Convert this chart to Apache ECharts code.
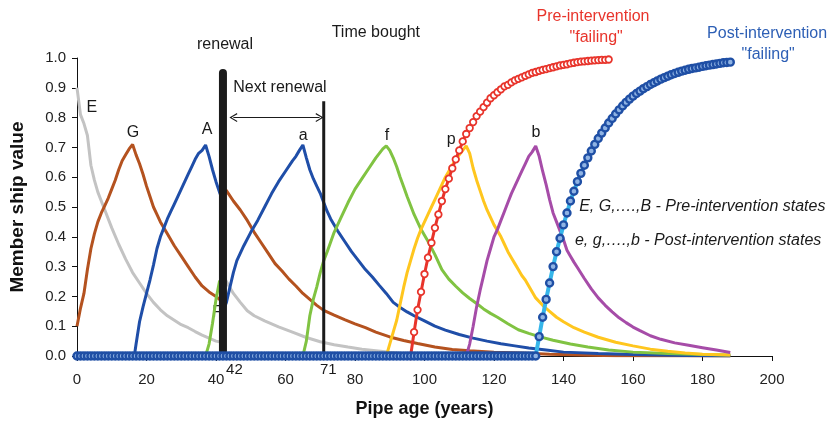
<!DOCTYPE html>
<html>
<head>
<meta charset="utf-8">
<script src="https://cdn.jsdelivr.net/npm/echarts@6/dist/echarts.min.js"></script>
<style>
  html, body { margin: 0; padding: 0; background: #fff; }
  #chart { width: 838px; height: 425px; }
</style>
</head>
<body>
<div id="chart"></div>
<script>
// Membership value of each condition state against pipe age, [age, value]

// Pre-intervention states
const statePreE = [[0,0.90],[1,0.81],[2,0.78],[3,0.74],[4,0.64],[5,0.59],[6,0.55],[8,0.49],[10,0.43],[12,0.375],[14,0.325],[16,0.28],[18,0.245],[20,0.21],[22,0.18],[24,0.155],[26,0.135],[28,0.12],[30,0.105],[32,0.095],[34,0.082],[36,0.07],[38,0.06],[40,0.05],[42,0.045]];
const statePreG = [[0,0.10],[1,0.16],[2,0.21],[3,0.29],[4,0.36],[5,0.41],[6,0.45],[7,0.48],[8,0.505],[9,0.53],[10,0.56],[11,0.59],[12,0.625],[13,0.655],[14,0.675],[15,0.695],[16,0.71],[17,0.675],[18,0.645],[19,0.61],[20,0.57],[21,0.535],[22,0.50],[23,0.475],[24,0.45],[26,0.41],[28,0.37],[30,0.335],[32,0.30],[34,0.265],[36,0.235],[38,0.215],[40,0.20],[41,0.19],[42,0.18]];
const statePreA = [[0,0],[16.5,0],[17,0.04],[18,0.115],[19,0.165],[20,0.21],[21,0.255],[22,0.305],[23,0.36],[24,0.40],[25,0.43],[26,0.46],[27,0.485],[28,0.51],[29,0.535],[30,0.56],[31,0.585],[32,0.61],[33,0.635],[34,0.66],[35,0.68],[36,0.69],[37,0.708],[38,0.67],[39,0.625],[40,0.585],[41,0.55],[42,0.52]];
const statePreF = [[0,0],[37,0],[38,0.04],[39,0.11],[40,0.19],[41,0.25],[42,0.26]];

// Post-intervention states (after the renewal at age 42)
const statePostE = [[42,0.27],[43,0.25],[45,0.21],[47,0.18],[49,0.152],[51,0.135],[54,0.118],[58,0.098],[62,0.08],[66,0.062],[70,0.048],[74,0.038],[78,0.03],[82,0.023],[86,0.018],[90,0.013],[95,0.007],[100,0.003],[110,0]];
const statePostG = [[42,0.565],[43,0.555],[45,0.52],[47,0.49],[49,0.455],[51,0.415],[53,0.38],[55,0.345],[57,0.31],[59,0.285],[61,0.258],[63,0.235],[65,0.21],[67,0.19],[69,0.17],[71,0.153],[74,0.137],[77,0.122],[80,0.108],[83,0.095],[86,0.08],[90,0.064],[94,0.052],[98,0.042],[103,0.03],[108,0.022],[113,0.018],[120,0.013],[128,0.01],[136,0.006],[145,0.003],[155,0.001],[188,0]];
const statePostA = [[42,0.15],[43,0.18],[44,0.23],[45,0.28],[46,0.32],[47,0.345],[48,0.37],[50,0.415],[52,0.455],[54,0.50],[56,0.545],[58,0.585],[60,0.62],[62,0.655],[63,0.67],[64,0.69],[65,0.708],[66,0.665],[67,0.625],[68,0.595],[69,0.57],[70,0.546],[71,0.515],[72,0.485],[73,0.46],[75,0.42],[77,0.385],[79,0.35],[81,0.32],[83,0.29],[85,0.265],[87,0.237],[89,0.21],[91,0.18],[93,0.163],[95,0.148],[97,0.135],[100,0.118],[103,0.1],[106,0.087],[110,0.072],[114,0.06],[118,0.05],[122,0.041],[126,0.034],[130,0.027],[135,0.02],[140,0.013],[150,0.008],[160,0.005],[175,0.002],[188,0]];
const statePostF = [[42,0],[65,0],[66,0.05],[67,0.135],[68,0.19],[69,0.232],[70,0.28],[71,0.32],[72,0.35],[74,0.415],[76,0.465],[78,0.515],[80,0.56],[82,0.595],[84,0.63],[86,0.665],[88,0.695],[89,0.705],[90,0.69],[91,0.665],[92,0.635],[93,0.60],[94,0.568],[95,0.535],[96,0.505],[97,0.475],[99,0.425],[101,0.385],[103,0.34],[105,0.29],[107,0.258],[109,0.234],[111,0.212],[113,0.193],[115,0.176],[117,0.158],[119,0.143],[121,0.13],[124,0.108],[127,0.088],[130,0.076],[133,0.065],[137,0.053],[142,0.04],[147,0.03],[153,0.02],[160,0.013],[170,0.008],[180,0.005],[188,0.003]];
const statePostP = [[0,0],[89,0],[90,0.04],[91,0.08],[92,0.12],[93,0.175],[94,0.23],[95,0.28],[96,0.32],[97,0.36],[98,0.395],[99,0.425],[100,0.45],[101,0.475],[102,0.50],[103,0.525],[104,0.55],[105,0.575],[106,0.60],[107,0.62],[108,0.64],[109,0.66],[110,0.675],[111,0.69],[112,0.705],[113,0.68],[114,0.63],[115,0.59],[116,0.555],[117,0.52],[118,0.49],[119,0.465],[120,0.44],[121,0.42],[122,0.40],[123,0.375],[124,0.35],[125,0.33],[126,0.31],[127,0.29],[128,0.27],[129,0.255],[130,0.235],[131,0.215],[132,0.195],[134,0.17],[136,0.15],[138,0.13],[140,0.115],[143,0.095],[146,0.08],[150,0.063],[155,0.046],[160,0.034],[165,0.023],[170,0.016],[175,0.01],[180,0.006],[188,0.003]];
const statePostB = [[0,0],[112,0],[113,0.04],[114,0.10],[115,0.165],[116,0.22],[117,0.27],[118,0.32],[119,0.36],[120,0.40],[121,0.425],[122,0.455],[123,0.485],[124,0.515],[125,0.545],[126,0.57],[127,0.595],[128,0.62],[129,0.645],[130,0.67],[131,0.685],[132,0.705],[133,0.67],[134,0.62],[135,0.575],[136,0.525],[137,0.48],[138,0.45],[139,0.42],[140,0.39],[141,0.355],[142,0.335],[143,0.315],[144,0.297],[146,0.26],[148,0.225],[150,0.195],[152,0.17],[154,0.148],[156,0.128],[158,0.112],[160,0.097],[162,0.085],[165,0.068],[168,0.056],[172,0.044],[176,0.036],[180,0.028],[184,0.02],[188,0.012]];

// "Failing" curves, one value per year
const preFailStartAge = 96;
const preFailValues = [0,0.08,0.155,0.215,0.275,0.33,0.38,0.43,0.475,0.52,0.56,0.595,0.63,0.66,0.69,0.72,0.745,0.765,0.785,0.805,0.82,0.835,0.85,0.865,0.875,0.885,0.895,0.905,0.91,0.918,0.925,0.93,0.935,0.94,0.945,0.95,0.953,0.957,0.96,0.963,0.966,0.969,0.972,0.975,0.977,0.979,0.982,0.984,0.986,0.988,0.989,0.99,0.991,0.992,0.993,0.994,0.994,0.995];
const postFailFlatSpan = [0, 131];   // post-intervention failing stays at zero over these ages
const postFailStartAge = 132;
const postFailValues = [0,0.065,0.13,0.19,0.245,0.30,0.35,0.395,0.44,0.48,0.52,0.553,0.585,0.613,0.64,0.665,0.688,0.71,0.73,0.748,0.765,0.782,0.797,0.812,0.826,0.839,0.851,0.862,0.872,0.881,0.889,0.897,0.904,0.911,0.917,0.923,0.929,0.934,0.939,0.944,0.948,0.952,0.956,0.959,0.962,0.965,0.967,0.969,0.972,0.974,0.976,0.978,0.98,0.982,0.984,0.985,0.986];

// Renewal markers
const renewalAge = 42;
const renewalTop = 0.95;
const nextRenewalAge = 71;
const nextRenewalTop = 0.855;
const timeBoughtArrow = [[45, 0.80], [69.8, 0.80]];

// Axis ticks
const xTicks = { min: 0, max: 200, step: 20 };
const yTicks = { min: 0, max: 1, step: 0.1 };

// Text annotations placed in data coordinates
const notes = [
  { text: 'renewal', at: [42.6, 1.044] },
  { text: 'Time bought', at: [86.0, 1.085] },
  { text: 'Next renewal', at: [58.4, 0.90] },
  { text: 'E', at: [4.3, 0.833] },
  { text: 'G', at: [16.1, 0.749] },
  { text: 'A', at: [37.4, 0.759] },
  { text: 'F', at: [40.3, 0.144] },
  { text: 'a', at: [65.1, 0.739] },
  { text: 'f', at: [89.2, 0.739] },
  { text: 'p', at: [107.7, 0.725] },
  { text: 'b', at: [132.1, 0.749] },
  { text: 'Pre-intervention', at: [148.5, 1.139], color: '#e8342b' },
  { text: '"failing"', at: [149.4, 1.068], color: '#e8342b' },
  { text: 'Post-intervention', at: [198.6, 1.082], color: '#2d5fb5' },
  { text: '"failing"', at: [198.9, 1.010], color: '#2d5fb5' },
  { text: 'E, G,….,B - Pre-intervention states', at: [144.5, 0.503], italic: true, align: 'left' },
  { text: 'e, g,….,b - Post-intervention states', at: [143.3, 0.386], italic: true, align: 'left' },
  { text: '42', at: [45.3, -0.048], size: 15 },
  { text: '71', at: [72.3, -0.048], size: 15 }
];

const FONT = '"Liberation Sans", Arial, Helvetica, sans-serif';

function seq(start, values) {
  return values.map((v, i) => [start + i, v]);
}
function flat(span) {
  const pts = [];
  for (let a = span[0]; a <= span[1]; a++) pts.push([a, 0]);
  return pts;
}

function stateLine(name, data, color) {
  return {
    name, type: 'line', data, showSymbol: false, symbol: 'none',
    lineStyle: { color, width: 3 }, itemStyle: { color }, silent: true, z: 2
  };
}

const chart = echarts.init(document.getElementById('chart'), null, { renderer: 'canvas' });

const option = {
  animation: false,
  backgroundColor: '#fff',
  textStyle: { fontFamily: FONT },
  grid: { left: 77, right: 66, top: 58, bottom: 69 },
  xAxis: {
    type: 'value', min: xTicks.min, max: xTicks.max, interval: xTicks.step,
    name: 'Pipe age (years)', nameLocation: 'middle', nameGap: 44,
    nameTextStyle: { fontSize: 18, fontWeight: 'bold', color: '#111', fontFamily: FONT },
    axisLine: { lineStyle: { color: '#111', width: 1 } },
    axisTick: { show: true, length: 5, inside: false, lineStyle: { color: '#111' } },
    axisLabel: { fontSize: 15, color: '#222', margin: 16, fontFamily: FONT },
    splitLine: { show: false }
  },
  yAxis: {
    type: 'value', min: yTicks.min, max: yTicks.max, interval: yTicks.step,
    name: 'Member ship value', nameLocation: 'middle', nameGap: 50, nameRotate: 90,
    nameTextStyle: { fontSize: 19, fontWeight: 'bold', color: '#111', fontFamily: FONT },
    axisLine: { show: true, lineStyle: { color: '#111', width: 1 } },
    axisTick: { show: true, length: 5, inside: false, lineStyle: { color: '#111' } },
    axisLabel: { fontSize: 15, color: '#222', margin: 11, fontFamily: FONT,
                 formatter: v => v.toFixed(1) },
    splitLine: { show: false }
  },
  series: [
    stateLine('E', statePreE, '#c3c3c3'),
    stateLine('e', statePostE, '#c3c3c3'),
    stateLine('G', statePreG, '#b4521f'),
    stateLine('g', statePostG, '#b4521f'),
    stateLine('A', statePreA, '#1f4ea8'),
    stateLine('a', statePostA, '#1f4ea8'),
    stateLine('F', statePreF, '#80c342'),
    stateLine('f', statePostF, '#80c342'),
    stateLine('p', statePostP, '#ffc61e'),
    stateLine('b', statePostB, '#a64ca8'),
    {
      name: 'Pre-intervention failing', type: 'line', data: seq(preFailStartAge, preFailValues),
      symbol: 'circle', symbolSize: 6.5, showSymbol: true,
      lineStyle: { color: '#e8342b', width: 3 },
      itemStyle: { color: '#ffffff', borderColor: '#e8342b', borderWidth: 1.8 },
      silent: true, z: 3
    },
    {
      name: 'Renewal', type: 'line', data: [[renewalAge, 0], [renewalAge, renewalTop]],
      symbol: 'none', lineStyle: { color: '#1b1b1b', width: 8, cap: 'round' }, silent: true, z: 4
    },
    {
      name: 'Next renewal', type: 'line', data: [[nextRenewalAge, 0], [nextRenewalAge, nextRenewalTop]],
      symbol: 'none', lineStyle: { color: '#1b1b1b', width: 3 }, silent: true, z: 4,
      markLine: {
        silent: true,
        symbol: ['path://M0,10 L5,0 L10,10 L8.8,10.6 L5,2.8 L1.2,10.6 Z',
                 'path://M0,10 L5,0 L10,10 L8.8,10.6 L5,2.8 L1.2,10.6 Z'],
        symbolSize: [9, 8],
        label: { show: false },
        lineStyle: { color: '#1b1b1b', width: 1.2, type: 'solid' },
        emphasis: { disabled: true },
        data: [[{ coord: timeBoughtArrow[0] }, { coord: timeBoughtArrow[1] }]]
      }
    },
    {
      name: 'Post-intervention failing', type: 'line',
      data: flat(postFailFlatSpan).concat(seq(postFailStartAge, postFailValues)),
      symbol: 'circle', symbolSize: 7, showSymbol: true,
      lineStyle: { color: '#36b6ea', width: 4 },
      itemStyle: { color: '#8fb3e3', borderColor: '#1f4fa5', borderWidth: 2.4 },
      silent: true, z: 5
    }
  ]
};

chart.setOption(option);

// Annotation texts, positioned through the grid's coordinate system
chart.setOption({
  graphic: notes.map(n => {
    const p = chart.convertToPixel({ gridIndex: 0 }, n.at);
    return {
      type: 'text', x: p[0], y: p[1], z: 1, silent: true,
      style: {
        text: n.text,
        fill: n.color || '#1a1a1a',
        font: (n.italic ? 'italic ' : '') + (n.size || 16) + 'px ' + FONT,
        align: n.align || 'center',
        verticalAlign: 'middle'
      }
    };
  })
});
</script>
</body>
</html>
